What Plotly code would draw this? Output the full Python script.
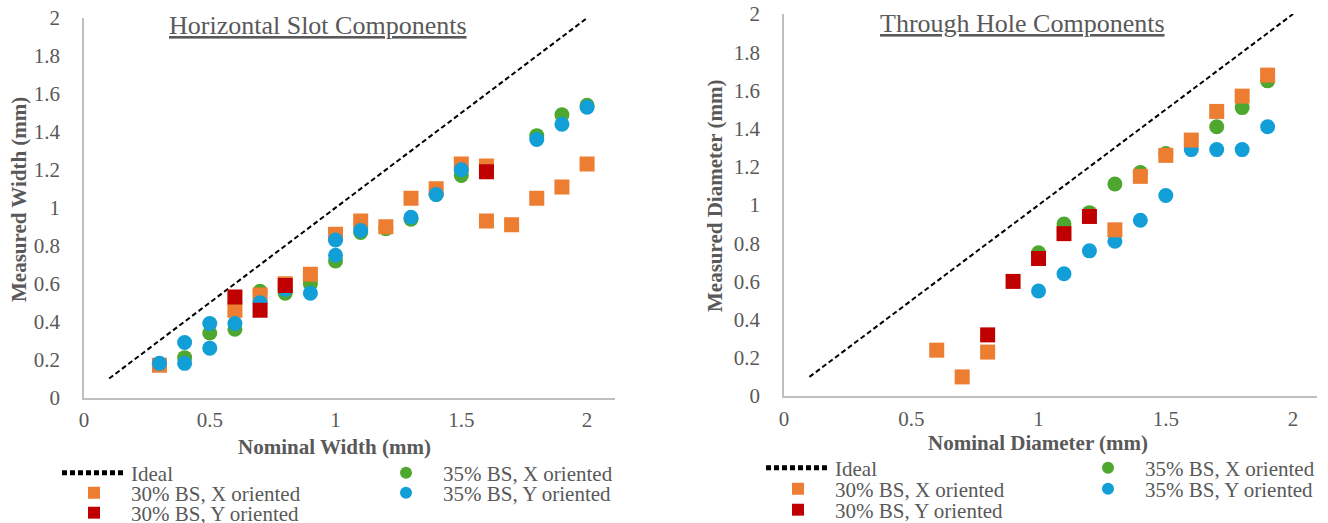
import plotly.graph_objects as go

# ---------------- data ----------------
ideal_x = [0.1, 2.0]
ideal_y = [0.1, 2.0]

# Horizontal slot components (left)
hs_30x_x = [0.3, 0.6, 0.7, 0.8, 0.9, 1.0, 1.1, 1.2, 1.3, 1.4, 1.5, 1.6, 1.6, 1.7, 1.8, 1.9, 2.0]
hs_30x_y = [0.17, 0.46, 0.54, 0.60, 0.65, 0.86, 0.93, 0.90, 1.05, 1.10, 1.23, 1.22, 0.93, 0.91, 1.05, 1.11, 1.23]
hs_30y_x = [0.6, 0.7, 0.8, 1.6]
hs_30y_y = [0.53, 0.46, 0.59, 1.19]
hs_35x_x = [0.3, 0.4, 0.5, 0.6, 0.7, 0.8, 0.9, 1.0, 1.1, 1.2, 1.3, 1.4, 1.5, 1.8, 1.9, 2.0]
hs_35x_y = [0.175, 0.21, 0.34, 0.36, 0.56, 0.55, 0.60, 0.72, 0.87, 0.89, 0.94, 1.07, 1.17, 1.38, 1.49, 1.54]
hs_35y_x = [0.3, 0.4, 0.4, 0.5, 0.5, 0.6, 0.7, 0.8, 0.9, 1.0, 1.0, 1.1, 1.3, 1.4, 1.5, 1.8, 1.9, 2.0]
hs_35y_y = [0.18, 0.29, 0.18, 0.39, 0.26, 0.39, 0.50, 0.57, 0.55, 0.83, 0.75, 0.88, 0.95, 1.07, 1.20, 1.36, 1.44, 1.53]

# Through hole components (right)
th_30x_x = [0.6, 0.7, 0.8, 1.3, 1.4, 1.5, 1.6, 1.7, 1.8, 1.9]
th_30x_y = [0.24, 0.10, 0.23, 0.87, 1.15, 1.26, 1.34, 1.49, 1.57, 1.68]
th_30y_x = [0.8, 0.9, 1.0, 1.1, 1.2]
th_30y_y = [0.32, 0.60, 0.72, 0.85, 0.94]
th_35x_x = [1.0, 1.1, 1.2, 1.3, 1.4, 1.5, 1.7, 1.8, 1.9]
th_35x_y = [0.75, 0.90, 0.96, 1.11, 1.17, 1.27, 1.41, 1.51, 1.65]
th_35y_x = [1.0, 1.1, 1.2, 1.3, 1.4, 1.5, 1.6, 1.7, 1.8, 1.9]
th_35y_y = [0.55, 0.64, 0.76, 0.81, 0.92, 1.05, 1.29, 1.29, 1.29, 1.41]

tick_vals_x = [0, 0.5, 1, 1.5, 2]
tick_text_x = ["0", "0.5", "1", "1.5", "2"]
tick_vals_y = [0, 0.2, 0.4, 0.6, 0.8, 1, 1.2, 1.4, 1.6, 1.8, 2]
tick_text_y = ["0", "0.2", "0.4", "0.6", "0.8", "1", "1.2", "1.4", "1.6", "1.8", "2"]

names = ["Ideal", "30% BS, X oriented", "30% BS, Y oriented", "35% BS, X oriented", "35% BS, Y oriented"]

# ---------------- styles ----------------
OFF = 0                      # page body margin removed by post_script below
W, H = 1328 - OFF, 523 - OFF
FONT = "Liberation Serif"
TXT = "#595959"
C_OR, C_RED, C_GRN, C_BLU = "#ED7D31", "#C00000", "#4EA72E", "#129FD8"
MS = 15

def px(xp):
    return (xp - OFF) / W

def py(yp):
    return 1 - (yp - OFF) / H

fig = go.Figure()

def add_ideal(xa, ya, leg):
    fig.add_trace(go.Scatter(x=ideal_x, y=ideal_y, mode="lines", name=names[0], showlegend=True,
                             line=dict(color="black", width=2, dash="5px,3px"),
                             xaxis=xa, yaxis=ya, legend=leg))

def add_pts(x, y, name, color, symbol, xa, ya, leg):
    fig.add_trace(go.Scatter(x=x, y=y, mode="markers", name=name, showlegend=True,
                             marker=dict(color=color, symbol=symbol, size=MS, line=dict(width=0)),
                             xaxis=xa, yaxis=ya, legend=leg))

# left chart (draw order: green, orange, blue, red)
add_ideal("x", "y", "legend")
add_pts(hs_35x_x, hs_35x_y, names[3], C_GRN, "circle", "x", "y", "legend4")
add_pts(hs_30x_x, hs_30x_y, names[1], C_OR, "square", "x", "y", "legend2")
add_pts(hs_35y_x, hs_35y_y, names[4], C_BLU, "circle", "x", "y", "legend5")
add_pts(hs_30y_x, hs_30y_y, names[2], C_RED, "square", "x", "y", "legend3")

# right chart (draw order: green, blue, orange, red)
add_ideal("x2", "y2", "legend6")
add_pts(th_35x_x, th_35x_y, names[3], C_GRN, "circle", "x2", "y2", "legend9")
add_pts(th_35y_x, th_35y_y, names[4], C_BLU, "circle", "x2", "y2", "legend10")
add_pts(th_30x_x, th_30x_y, names[1], C_OR, "square", "x2", "y2", "legend7")
add_pts(th_30y_x, th_30y_y, names[2], C_RED, "square", "x2", "y2", "legend8")

FS = 21
axis_common = dict(showgrid=False, zeroline=False, showline=True, linecolor="#BFBFBF", linewidth=1.5,
                   ticks="", tickfont=dict(family=FONT, size=FS, color=TXT), fixedrange=True,
                   automargin=False, ticklabeloverflow="allow")

layout = dict(
    width=W, height=H, margin=dict(l=0, r=0, t=0, b=0, autoexpand=False),
    showlegend=True,
    paper_bgcolor="white", plot_bgcolor="white",
    font=dict(family=FONT, color=TXT),
    xaxis=dict(domain=[px(84), px(615)], range=[0, 2.111], anchor="y",
               tickvals=tick_vals_x, ticktext=tick_text_x, ticklabelstandoff=3, **axis_common),
    yaxis=dict(domain=[py(397.5), py(18)], range=[0, 2], anchor="x",
               tickvals=tick_vals_y, ticktext=tick_text_y, ticklabelstandoff=18, **axis_common),
    xaxis2=dict(domain=[px(784), px(1317)], range=[0, 2.094], anchor="y2",
                tickvals=tick_vals_x, ticktext=tick_text_x, ticklabelstandoff=3, **axis_common),
    yaxis2=dict(domain=[py(396), py(14)], range=[0, 2], anchor="x2",
                tickvals=tick_vals_y, ticktext=tick_text_y, ticklabelstandoff=18, **axis_common),
)

# one legend per entry, placed like the original two-column legend
IW = 64
TEXT_OFF = IW + 12
leg_pos = {
    "legend": (133, 473), "legend2": (133, 493), "legend3": (133, 513),
    "legend4": (445, 473), "legend5": (445, 493),
    "legend6": (837, 468), "legend7": (837, 489), "legend8": (837, 510),
    "legend9": (1147, 468), "legend10": (1147, 489),
}
for key, (tx, ty) in leg_pos.items():
    layout[key] = dict(x=px(tx - TEXT_OFF), y=py(ty), xanchor="left", yanchor="middle",
                       orientation="v", bgcolor="rgba(0,0,0,0)", borderwidth=0, visible=True,
                       itemwidth=IW, itemsizing="constant",
                       font=dict(family=FONT, size=FS, color=TXT))

fig.update_layout(**layout)

annots = [
    dict(text="<u>Horizontal Slot Components</u>", x=px(318), y=py(25), size=26, angle=0),
    dict(text="<u>Through Hole Components</u>", x=px(1022), y=py(23), size=26, angle=0),
    dict(text="<b>Nominal Width (mm)</b>", x=px(334), y=py(447), size=21, angle=0),
    dict(text="<b>Nominal Diameter (mm)</b>", x=px(1038), y=py(443), size=21, angle=0),
    dict(text="<b>Measured Width (mm)</b>", x=px(19), y=py(200), size=21, angle=-90),
    dict(text="<b>Measured Diameter (mm)</b>", x=px(715), y=py(196), size=21, angle=-90),
]
for a in annots:
    fig.add_annotation(text=a["text"], x=a["x"], y=a["y"], xref="paper", yref="paper",
                       xanchor="center", yanchor="middle", showarrow=False, textangle=a["angle"],
                       font=dict(family=FONT, size=a["size"], color=TXT))

fig.write_html("out.html", config={"displayModeBar": False},
               post_script="document.body.style.margin='0px'; document.body.style.overflow='hidden';")
